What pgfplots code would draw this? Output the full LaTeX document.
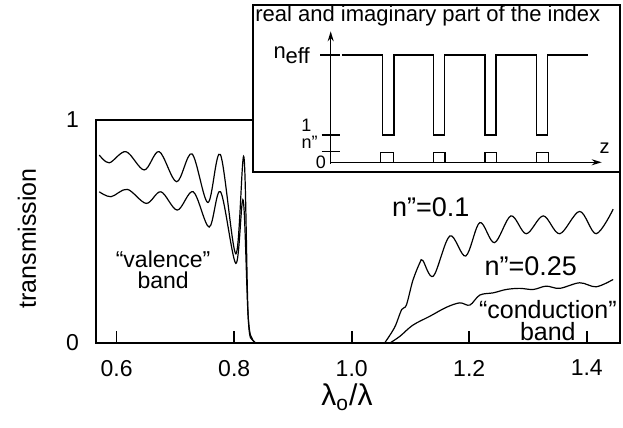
\documentclass[border=0pt]{standalone}
\usepackage{fontspec}
\setmainfont{Liberation Sans}
\usepackage{pgfplots}
\pgfplotsset{compat=1.18}
\usetikzlibrary{arrows.meta,calc}

\begin{document}
\begin{tikzpicture}
\begin{axis}[name=main, scale only axis, width=262pt, height=111.5pt,
  xmin=0.5648, xmax=1.4566, ymin=0, ymax=1,
  axis line style={line width=1.1pt},
  xtick={0.6,0.8,1.0,1.2,1.4}, xtick pos=bottom, tick align=inside,
  major tick length=6pt, xtick style={line width=0.8pt, black},
  ytick={0,1}, yticklabels={0,1}, ytick style={draw=none},
  /pgf/number format/assume math mode=true,
  tick label style={font=\fontsize{11.5}{13}\selectfont},
  xticklabel style={yshift=-5pt, /pgf/number format/.cd, fixed, fixed zerofill, precision=1},
  yticklabel style={xshift=-5pt},
  every axis x label/.style={at={(axis description cs:0.479,-0.243)}, anchor=center},
  every axis y label/.style={at={(axis description cs:-0.1317,0.469)}, rotate=90, anchor=center},
  xlabel={\fontsize{15}{17}\selectfont λ\textsubscript{o}/λ},
  ylabel={\fontsize{12.5}{14}\selectfont transmission},
]
% n''=0.1
\addplot[black, line width=0.6pt, smooth, tension=0.55] coordinates {
 (0.5704,0.843) (0.5874,0.808) (0.6158,0.858) (0.6469,0.776) (0.6724,0.858)
 (0.7020,0.723) (0.7281,0.848) (0.7553,0.63) (0.7765,0.845) (0.8029,0.40)
 (0.8165,0.835) (0.8238,0.118) (0.8323,0.01) (0.8456,0)
};
\addplot[black, line width=0.6pt] coordinates {(0.8456,0) (1.056,0)};
\addplot[black, line width=0.6pt, smooth, tension=0.55] coordinates {
 (1.056,0) (1.073,0.07) (1.085,0.15) (1.093,0.17) (1.104,0.28) (1.116,0.36)
 (1.121,0.37) (1.139,0.30) (1.167,0.48) (1.194,0.39) (1.218,0.54) (1.243,0.45)
 (1.271,0.57) (1.297,0.49) (1.326,0.57) (1.354,0.49) (1.388,0.59) (1.416,0.49)
 (1.445,0.60)
};
% n''=0.25
\addplot[black, line width=0.6pt, smooth, tension=0.55] coordinates {
 (0.5704,0.678) (0.5903,0.656) (0.6181,0.689) (0.6503,0.626) (0.6753,0.678)
 (0.7032,0.596) (0.7303,0.678) (0.7574,0.52) (0.7768,0.678) (0.8029,0.357)
 (0.8153,0.64) (0.8238,0.118) (0.8323,0.01) (0.8456,0)
};
\addplot[black, line width=0.6pt, smooth, tension=0.55] coordinates {
 (1.065,0) (1.082,0.03) (1.104,0.08) (1.133,0.12) (1.161,0.16) (1.184,0.18)
 (1.201,0.17) (1.218,0.215) (1.241,0.225) (1.263,0.24) (1.286,0.245)
 (1.309,0.24) (1.331,0.255) (1.354,0.245) (1.388,0.27) (1.416,0.252) (1.445,0.285)
};
\node[align=center, font=\fontsize{11.5}{10.5}\selectfont] at (axis cs:0.679,0.327) {“valence”\\band};
\node[font=\fontsize{13.5}{15}\selectfont] at (axis cs:1.1345,0.61) {n”=0.1};
\node[font=\fontsize{13.5}{15}\selectfont] at (axis cs:1.3046,0.345) {n”=0.25};
\node[align=center, anchor=east, inner sep=0pt, font=\fontsize{12.5}{11}\selectfont] at (axis cs:1.4515,0.10) {“conduction”\\band};
\end{axis}

\begin{axis}[name=inset, at={($(main.south east)+(0,85.5pt)$)}, anchor=south east,
  scale only axis, width=183.5pt, height=83.5pt,
  xmin=-77.7, xmax=289.3, ymin=-9.7, ymax=157.3,
  xtick=\empty, ytick=\empty,
  axis line style={line width=0.75pt},
  axis background/.style={fill=white}, clip=false]
\addplot[black, line width=0.7pt] coordinates {
 (11,107.3) (52,107.3) (52,27.3) (63.3,27.3) (63.3,107.3) (102.6,107.3)
 (102.6,27.3) (113.6,27.3) (113.6,107.3) (154.3,107.3) (154.3,27.3)
 (165.3,27.3) (165.3,107.3) (206,107.3) (206,27.3) (216.6,27.3)
 (216.6,107.3) (257.6,107.3)
};
\addplot[black, line width=0.7pt] coordinates {
 (0,0) (50,0) (50,9.6) (62.6,9.6) (62.6,0) (102.6,0) (102.6,9.6) (114.3,9.6)
 (114.3,0) (154.3,0) (154.3,9.6) (166,9.6) (166,0) (206,0) (206,9.6)
 (217.6,9.6) (217.6,0)
};
\draw[line width=0.7pt, -{Stealth[length=5pt,width=3pt]}] (axis cs:0,-1.5) -- (axis cs:0,131);
\draw[line width=0.7pt, -{Stealth[length=5pt,width=3pt]}] (axis cs:0,0) -- (axis cs:271,0);
\draw[line width=0.7pt] (axis cs:-10.7,107.3) -- (axis cs:9.3,107.3);
\draw[line width=0.7pt] (axis cs:-9,27.3) -- (axis cs:9.3,27.3);
\draw[line width=0.7pt] (axis cs:-9,10.6) -- (axis cs:9,10.6);
\node[anchor=base west, inner sep=0pt, font=\fontsize{11}{13}\selectfont] at (axis cs:-75.7,140.6) {real and imaginary part of the index};
\node[anchor=base east, inner sep=0pt, font=\fontsize{11}{13}\selectfont] at (axis cs:-20.5,104) {n\raisebox{-2.5pt}{eff}};
\node[anchor=base east, inner sep=0pt, font=\fontsize{9}{11}\selectfont] at (axis cs:-19,31) {1};
\node[anchor=base east, inner sep=0pt, font=\fontsize{9}{11}\selectfont] at (axis cs:-12.7,13.5) {n”};
\node[anchor=base east, inner sep=0pt, font=\fontsize{9}{11}\selectfont] at (axis cs:-4.5,-6) {0};
\node[anchor=base, inner sep=0pt, font=\fontsize{10}{12}\selectfont] at (axis cs:274,9) {z};
\end{axis}
\pgfresetboundingbox
\path[use as bounding box] ([shift={(-48pt,-42.5pt)}]main.south west) rectangle ++(311.5pt,214pt);
\end{tikzpicture}
\end{document}
